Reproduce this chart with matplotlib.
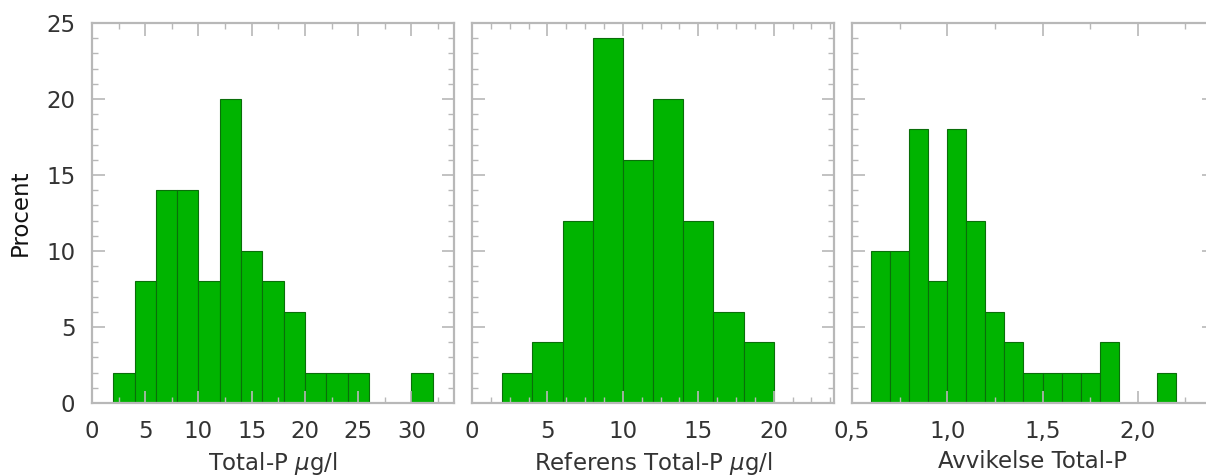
import matplotlib
matplotlib.use("Agg")
import matplotlib.pyplot as plt
from matplotlib.ticker import MultipleLocator, FuncFormatter

plt.rcParams['font.family'] = ['DejaVu Sans']
plt.rcParams['mathtext.fontset'] = 'dejavusans'

# Panel 1: Total-P (bin left edges, bin width 2)
p1_edges = [2, 4, 6, 8, 10, 12, 14, 16, 18, 20, 22, 24, 26, 28, 30]
p1_pct = [2, 8, 14, 14, 8, 20, 10, 8, 6, 2, 2, 2, 0, 0, 2]
# Panel 2: Referens Total-P
p2_edges = [2, 4, 6, 8, 10, 12, 14, 16, 18]
p2_pct = [2, 4, 12, 24, 16, 20, 12, 6, 4]
# Panel 3: Avvikelse Total-P (bin width 0.1)
p3_edges = [0.6, 0.7, 0.8, 0.9, 1.0, 1.1, 1.2, 1.3, 1.4, 1.5, 1.6, 1.7, 1.8, 1.9, 2.0, 2.1]
p3_pct = [10, 10, 18, 8, 18, 12, 6, 4, 2, 2, 2, 2, 4, 0, 0, 2]

W, H = 1206, 475
fig = plt.figure(figsize=(W / 100, H / 100), dpi=100)

def rect(l, r, t, b):
    return [l / W, 1 - b / H, (r - l) / W, (b - t) / H]

face = '#00b400'
edge = '#0a6e0a'
spine_c = '#b8b8b8'
txt_c = '#333333'
fs = 16.5

panels = [
    dict(pos=rect(92, 454, 23, 403), edges=p1_edges, pct=p1_pct, w=2, xlim=(0, 34),
         major=5, minor=2.5, xlabel='Total-P $\\mu$g/l', comma=False, ylab=True),
    dict(pos=rect(472, 834, 23, 403), edges=p2_edges, pct=p2_pct, w=2, xlim=(0, 24),
         major=5, minor=1.25, xlabel='Referens Total-P $\\mu$g/l', comma=False, ylab=False),
    dict(pos=rect(852, 1214, 23, 403), edges=p3_edges, pct=p3_pct, w=0.1, xlim=(0.5, 2.4),
         major=0.5, minor=0.25, xlabel='Avvikelse Total-P', comma=True, ylab=False),
]

for p in panels:
    ax = fig.add_axes(p['pos'])
    ax.bar(p['edges'], p['pct'], width=p['w'], align='edge', color=face,
           edgecolor=edge, linewidth=0.8)
    ax.set_xlim(*p['xlim'])
    ax.set_ylim(0, 25)
    ax.xaxis.set_major_locator(MultipleLocator(p['major']))
    ax.xaxis.set_minor_locator(MultipleLocator(p['minor']))
    ax.yaxis.set_major_locator(MultipleLocator(5))
    ax.yaxis.set_minor_locator(MultipleLocator(1))
    for s in ax.spines.values():
        s.set_color(spine_c)
        s.set_linewidth(1.6)
    ax.tick_params(which='both', direction='in', top=True, right=True,
                   color=spine_c, labelcolor=txt_c, labelsize=fs)
    ax.tick_params(axis='x', which='major', pad=12)
    ax.tick_params(axis='y', which='major', pad=12)
    ax.tick_params(which='major', length=9, width=1.2)
    ax.tick_params(which='minor', length=4.5, width=1.0)
    if p['comma']:
        ax.xaxis.set_major_formatter(FuncFormatter(lambda v, pos: f'{v:.1f}'.replace('.', ',')))
        ax.set_xticks([0.5, 1.0, 1.5, 2.0])
    else:
        ax.xaxis.set_major_formatter(FuncFormatter(lambda v, pos: f'{v:g}'))
    if p['ylab']:
        ax.set_ylabel('Procent', fontsize=fs, color='#111111', labelpad=10)
    else:
        ax.tick_params(axis='y', labelleft=False)
    ax.set_xlabel(p['xlabel'], fontsize=fs, color=txt_c, labelpad=5)

fig.savefig('out.png', dpi=100)
